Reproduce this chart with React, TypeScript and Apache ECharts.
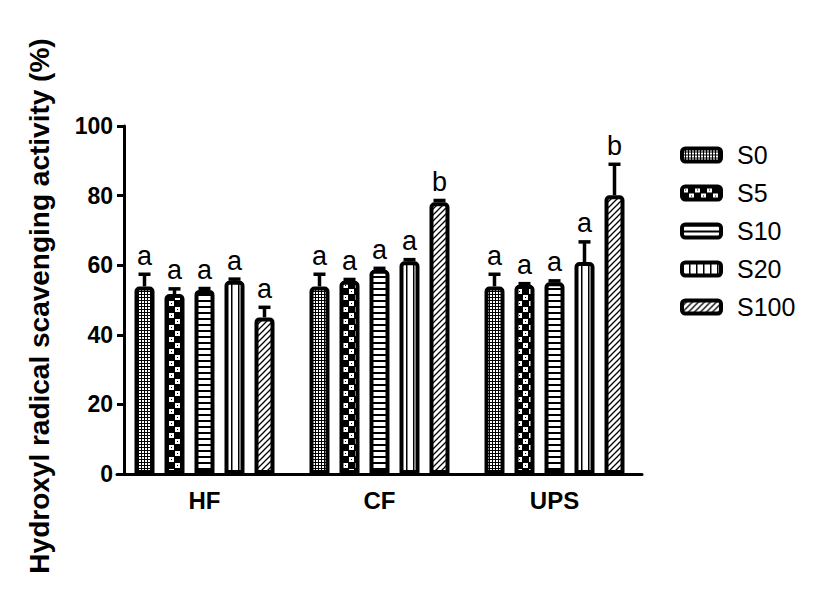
import React, { useEffect, useRef } from "react";
import * as echarts from "echarts";

const categories = ["HF", "CF", "UPS"];
const seriesNames = ["S0", "S5", "S10", "S20", "S100"];

const meanS0 = [53.9, 53.9, 53.9];
const meanS5 = [51.7, 55.5, 54.4];
const meanS10 = [52.9, 58.7, 55.1];
const meanS20 = [55.5, 61.1, 60.9];
const meanS100 = [45.0, 78.1, 80.1];

const sdS0 = [3.5, 3.5, 3.5];
const sdS5 = [1.5, 0.4, 0.3];
const sdS10 = [0.4, 0.4, 0.4];
const sdS20 = [0.5, 0.5, 5.8];
const sdS100 = [2.9, 0.5, 8.9];

const letS0 = ["a", "a", "a"];
const letS5 = ["a", "a", "a"];
const letS10 = ["a", "a", "a"];
const letS20 = ["a", "a", "a"];
const letS100 = ["a", "b", "b"];

const yMin = 0;
const yMax = 100;
const yInterval = 20;

const yTitle = "Hydroxyl radical scavenging activity (%)";

const means = [meanS0, meanS5, meanS10, meanS20, meanS100];
const sds = [sdS0, sdS5, sdS10, sdS20, sdS100];
const letters = [letS0, letS5, letS10, letS20, letS100];

const FONT = '"Liberation Sans", Arial, Helvetica, sans-serif';
const BAR_W = 20;
const BAR_GAP = 0.5;
const PITCH = BAR_W * (1 + BAR_GAP);

function makePattern(kind: number) {
  const c = document.createElement("canvas");
  let w = 3, h = 3;
  if (kind === 0) { w = 3; h = 3; }
  if (kind === 1) { w = 12; h = 12; }
  if (kind === 2) { w = 8; h = 6; }
  if (kind === 3) { w = 7; h = 8; }
  if (kind === 4) { w = 6; h = 6; }
  c.width = w; c.height = h;
  const ctx = c.getContext("2d")!;
  ctx.fillStyle = "#fff";
  ctx.fillRect(0, 0, w, h);
  ctx.fillStyle = "#000";
  ctx.strokeStyle = "#000";
  if (kind === 0) {
    ctx.fillRect(0, 0, 3, 3);
    ctx.fillStyle = "#fff";
    ctx.fillRect(1, 1, 2, 2);
  } else if (kind === 1) {
    ctx.fillRect(0, 0, 12, 12);
    ctx.fillStyle = "#fff";
    ctx.fillRect(1, 1, 5, 5);
    ctx.fillRect(7, 7, 5, 5);
    ctx.fillStyle = "#000";
    ctx.fillRect(3, 3, 1, 1);
    ctx.fillRect(9, 9, 1, 1);
  } else if (kind === 2) {
    ctx.fillRect(0, 0, w, 2);
  } else if (kind === 3) {
    ctx.fillRect(0, 0, 1.5, h);
  } else if (kind === 4) {
    ctx.lineWidth = 1.3;
    ctx.beginPath();
    ctx.moveTo(-1, 7); ctx.lineTo(7, -1);
    ctx.moveTo(-1, 1); ctx.lineTo(1, -1);
    ctx.moveTo(5, 7); ctx.lineTo(7, 5);
    ctx.stroke();
  }
  return { image: c, repeat: "repeat", imageWidth: w, imageHeight: h } as any;
}

export default function App() {
  const ref = useRef<HTMLDivElement>(null);
  useEffect(() => {
    if (!ref.current) return;
    const chart = echarts.init(ref.current, null, { renderer: "svg" });
    const patterns = seriesNames.map((_, i) => makePattern(i));

    const barSeries = seriesNames.map((name, i) => ({
      name,
      type: "bar",
      data: means[i],
      barWidth: BAR_W,
      barGap: BAR_GAP * 100 + "%",
      itemStyle: {
        color: patterns[i],
        borderColor: "#000",
        borderWidth: 4,
        borderRadius: [3, 3, 0, 0],
      },
    }));

    const errData: any[] = [];
    const errLetters: string[] = [];
    seriesNames.forEach((_, si) => {
      categories.forEach((_, ci) => {
        errData.push([ci, si, means[si][ci], sds[si][ci]]);
        errLetters.push(letters[si][ci]);
      });
    });

    const errSeries = {
      type: "custom",
      name: "err",
      data: errData,
      encode: { x: 0, y: 2 },
      z: 5,
      renderItem: (params: any, api: any) => {
        const ci = api.value(0);
        const si = api.value(1);
        const m = api.value(2);
        const sd = api.value(3);
        const base = api.coord([ci, m]);
        const top = api.coord([ci, m + sd]);
        const x = base[0] + (si - 2) * PITCH;
        return {
          type: "group",
          children: [
            {
              type: "line",
              shape: { x1: x, y1: base[1], x2: x, y2: top[1] },
              style: { stroke: "#000", lineWidth: 3.5 },
            },
            {
              type: "line",
              shape: { x1: x - 6, y1: top[1], x2: x + 6, y2: top[1] },
              style: { stroke: "#000", lineWidth: 3.5 },
            },
            {
              type: "text",
              style: {
                text: errLetters[params.dataIndex],
                x: x,
                y: top[1] - 5,
                align: "center",
                verticalAlign: "bottom",
                fontSize: 27,
                fontFamily: FONT,
                fill: "#000",
              },
            },
          ],
        };
      },
    };

    chart.setOption({
      animation: false,
      backgroundColor: "#fff",
      grid: { left: 117, width: 525, top: 126, bottom: 124, containLabel: false },
      legend: {
        orient: "vertical",
        left: 675,
        top: 137,
        itemWidth: 39,
        itemHeight: 13,
        itemGap: 12,
        icon: "roundRect",
        data: seriesNames,
        itemStyle: { borderColor: "#000", borderWidth: 4 },
        textStyle: {
          fontSize: 25,
          fontFamily: FONT,
          color: "#000",
          lineHeight: 26,
          padding: [0, 0, 0, 11],
        },
      },
      xAxis: {
        type: "category",
        data: categories,
        axisLine: { lineStyle: { color: "#000", width: 3 } },
        axisTick: { show: false },
        axisLabel: {
          fontSize: 24,
          fontWeight: "bold",
          fontFamily: FONT,
          color: "#000",
          margin: 14,
        },
      },
      yAxis: {
        type: "value",
        min: yMin,
        max: yMax,
        interval: yInterval,
        offset: -7,
        axisLine: { show: true, lineStyle: { color: "#000", width: 3 } },
        axisTick: { show: true, length: 7, lineStyle: { color: "#000", width: 3 } },
        splitLine: { show: false },
        axisLabel: {
          fontSize: 23,
          fontWeight: "bold",
          fontFamily: FONT,
          color: "#000",
          margin: 11,
        },
      },
      graphic: [
        {
          type: "text",
          x: 39,
          y: 306,
          rotation: Math.PI / 2,
          style: {
            text: yTitle,
            align: "center",
            verticalAlign: "middle",
            fontSize: 28,
            fontWeight: "bold",
            fontFamily: FONT,
            fill: "#000",
          },
        },
      ],
      series: [...barSeries, errSeries],
    });
    return () => chart.dispose();
  }, []);
  return (
    <div
      ref={ref}
      style={{ position: "fixed", left: 0, top: 0, width: 827, height: 598, background: "#fff" }}
    />
  );
}
